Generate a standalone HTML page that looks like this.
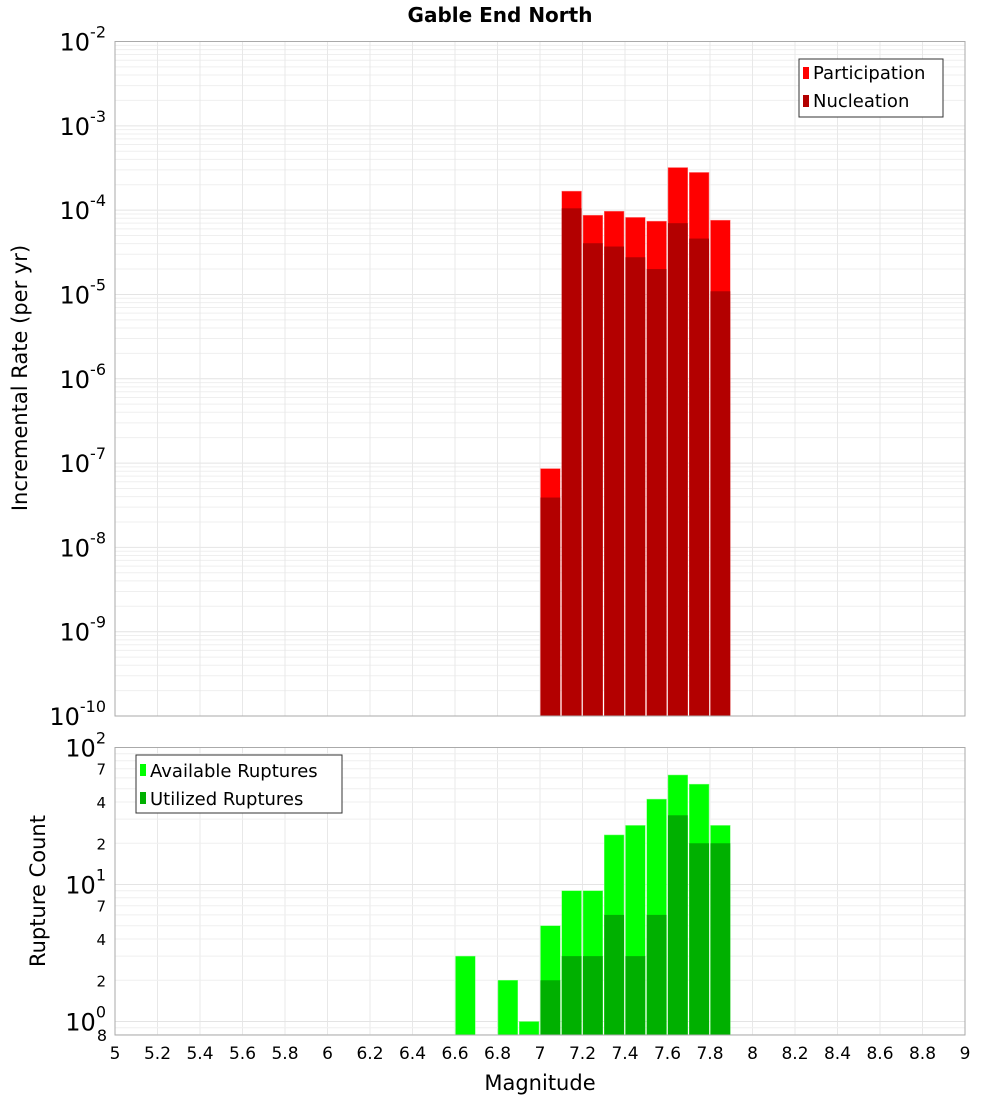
<!DOCTYPE html>
<html><head><meta charset="utf-8"><style>
body{margin:0;background:#fff;}
svg{display:block;font-family:"DejaVu Sans","Liberation Sans",sans-serif;}
</style></head><body>
<svg id="chart" width="1000" height="1100" xmlns="http://www.w3.org/2000/svg">
<text x="500" y="22" text-anchor="middle" font-size="20" font-weight="bold">Gable End North</text>
<g id="gtop"></g>
<g id="gbot"></g>
<text transform="translate(27,378) rotate(-90)" text-anchor="middle" font-size="21">Incremental Rate (per yr)</text>
<text transform="translate(45,891) rotate(-90)" text-anchor="middle" font-size="21">Rupture Count</text>
<text x="540" y="1090" text-anchor="middle" font-size="21">Magnitude</text>
<g id="leg1">
<rect x="799" y="59" width="144" height="58" fill="#fff" stroke="#333"/>
<rect x="803" y="67" width="6" height="12" fill="#ff0000"/>
<text x="813" y="79" font-size="18">Participation</text>
<rect x="803" y="95" width="6" height="12" fill="#b30000"/>
<text x="813" y="107" font-size="18">Nucleation</text>
</g>
<g id="leg2">
<rect x="136" y="755" width="206" height="58" fill="#fff" stroke="#333"/>
<rect x="140" y="764" width="6" height="12" fill="#00ff00"/>
<text x="150" y="777" font-size="18">Available Ruptures</text>
<rect x="140" y="792" width="6" height="12" fill="#00b000"/>
<text x="150" y="805" font-size="18">Utilized Ruptures</text>
</g>
</svg>
<script>
const topMags = [7.0,7.1,7.2,7.3,7.4,7.5,7.6,7.7,7.8];
const participation = [8.6e-8,1.68e-4,8.7e-5,9.7e-5,8.2e-5,7.4e-5,3.2e-4,2.8e-4,7.6e-5];
const nucleation = [3.9e-8,1.05e-4,4.05e-5,3.7e-5,2.76e-5,2.0e-5,7.0e-5,4.6e-5,1.09e-5];
const botMags = [6.6,6.8,6.9,7.0,7.1,7.2,7.3,7.4,7.5,7.6,7.7,7.8];
const available = [3,2,1,5,9,9,23,27,42,63,54,27];
const utilized = [0,0,0,2,3,3,6,3,6,32,20,20];
const xTicks = [5,5.2,5.4,5.6,5.8,6,6.2,6.4,6.6,6.8,7,7.2,7.4,7.6,7.8,8,8.2,8.4,8.6,8.8,9];
const topExps = [-2,-3,-4,-5,-6,-7,-8,-9,-10];
const botExps = [2,1,0];
const botMinor = [7,4,2];

const NS="http://www.w3.org/2000/svg";
const X0=115,X1=965;
const xs=m=>X0+(m-5)/4*(X1-X0);
const TT=41.5,TB=716;
const yTop=v=>TT+(-2-Math.log10(v))*(TB-TT)/8;
const BT=747.5,BB=1035,BMIN=0.79;
const yBot=v=>BT+(2-Math.log10(v))*137;
function el(p,t,a){const e=document.createElementNS(NS,t);for(const k in a)e.setAttribute(k,a[k]);p.appendChild(e);return e;}
const gTop=document.getElementById('gtop'), gBot=document.getElementById('gbot');

for(let d=-10;d<-2;d++){for(let k=2;k<=9;k++){const yy=yTop(k*10**d);const l=el(gTop,'line',{x1:X0,x2:X1,y1:yy,y2:yy,stroke:'#efefef'});

}}
topExps.forEach(e=>{const y=yTop(10**e);const l=el(gTop,'line',{x1:X0,x2:X1,y1:y,y2:y,stroke:'#e4e4e4'});


const t=el(gTop,'text',{x:106,y:y+9,'text-anchor':'end','font-size':24});


t.innerHTML='10<tspan dy="-13" font-size="16">'+e+'</tspan>';});
xTicks.forEach(m=>{const l=el(gTop,'line',{x1:xs(m),x2:xs(m),y1:TT,y2:TB,stroke:'#e8e8e8'});


const l2=el(gBot,'line',{x1:xs(m),x2:xs(m),y1:BT,y2:BB,stroke:'#e8e8e8'});


const t=el(gBot,'text',{x:xs(m),y:1059,'text-anchor':'middle','font-size':17});


t.textContent=String(m);});
topMags.forEach((m,i)=>{
const r=el(gTop,'rect',{x:xs(m)+0.5,width:xs(m+0.1)-xs(m)-1.5,y:yTop(participation[i]),height:TB-yTop(participation[i]),fill:'#ff0000',stroke:'#ff8080','stroke-width':0.5});


const n=el(gTop,'rect',{x:xs(m)+0.5,width:xs(m+0.1)-xs(m)-1.5,y:yTop(nucleation[i]),height:TB-yTop(nucleation[i]),fill:'#b30000'});

});
const tf=el(gTop,'rect',{x:X0,y:TT,width:X1-X0,height:TB-TT,fill:'none',stroke:'#aaa'});



for(let d=-1;d<2;d++){for(let k=1;k<=9;k++){const v=k*10**d;if(v<BMIN||v>100)continue;const yy=yBot(v);const l=el(gBot,'line',{x1:X0,x2:X1,y1:yy,y2:yy,stroke:k==1?'#e4e4e4':'#efefef'});

}}
botExps.forEach(e=>{const y=yBot(10**e);const t=el(gBot,'text',{x:106,y:y+9,'text-anchor':'end','font-size':24});


t.innerHTML='10<tspan dy="-13" font-size="16">'+e+'</tspan>';
if(e>0)botMinor.forEach(k=>{const s=el(gBot,'text',{x:106,y:yBot(k*10**(e-1))+6,'text-anchor':'end','font-size':15});


s.textContent=String(k);});});
const t8=el(gBot,'text',{x:107,y:1041,'text-anchor':'end','font-size':16});


t8.textContent='8';
botMags.forEach((m,i)=>{
const r=el(gBot,'rect',{x:xs(m)+0.5,width:xs(m+0.1)-xs(m)-1.5,y:yBot(available[i]),height:BB-yBot(available[i]),fill:'#00ff00',stroke:'#80ff80','stroke-width':0.5});


if(utilized[i]>0){const n=el(gBot,'rect',{x:xs(m)+0.5,width:xs(m+0.1)-xs(m)-1.5,y:yBot(utilized[i]),height:BB-yBot(utilized[i]),fill:'#00b000'});

}});
const bf=el(gBot,'rect',{x:X0,y:BT,width:X1-X0,height:BB-BT,fill:'none',stroke:'#aaa'});


const svgEl=document.getElementById('chart');
svgEl.appendChild(document.getElementById('leg1'));
svgEl.appendChild(document.getElementById('leg2'));
</script>
</body></html>
